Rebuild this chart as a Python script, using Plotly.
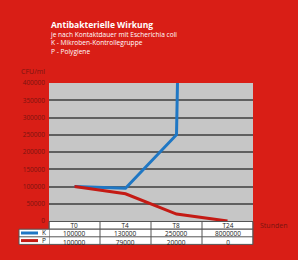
import plotly.graph_objects as go

categories = ["T0", "T4", "T8", "T24"]
k_values = [100000, 95000, 250000, 8000000]
p_values = [100000, 79000, 20000, 0]
k_table = ["100000", "130000", "250000", "8000000"]
p_table = ["100000", "79000", "20000", "0"]
series_names = ["K", "P"]
y_ticks = [0, 50000, 100000, 150000, 200000, 250000, 300000, 350000, 400000]
title_main = "Antibakterielle Wirkung"
title_lines = ["je nach Kontaktdauer mit Escherichia coli", "K - Mikroben-Kontrollegruppe", "P - Polygiene"]

W, H = 298, 260
L, R, T, B = 49, 253, 83, 221
pw, ph = R - L, B - T

def px(x):
    return (x - L) / pw

def py(y):
    return (B - y) / ph

BG = "#d91e16"
DARK = "#7a1410"
BLUE = "#1f77c4"
RED = "#c41a14"
FONT = "Open Sans"

fig = go.Figure()
fig.add_trace(go.Scatter(x=categories, y=k_values, mode="lines",
                         line=dict(color=BLUE, width=3), cliponaxis=True, showlegend=False))
fig.add_trace(go.Scatter(x=categories, y=p_values, mode="lines",
                         line=dict(color=RED, width=3), cliponaxis=True, showlegend=False))

shapes = []
annotations = []
row_edges = [221.5, 229.2, 236.8, 244.4]
shapes.append(dict(type="rect", xref="paper", yref="paper", x0=px(49), x1=px(253),
                   y0=py(row_edges[1]), y1=py(row_edges[0]), fillcolor="white",
                   line=dict(color="#555", width=1), layer="above"))
shapes.append(dict(type="rect", xref="paper", yref="paper", x0=px(19), x1=px(253),
                   y0=py(row_edges[3]), y1=py(row_edges[1]), fillcolor="white",
                   line=dict(color="#555", width=1), layer="above"))
shapes.append(dict(type="line", xref="paper", yref="paper", x0=px(19), x1=px(253),
                   y0=py(row_edges[2]), y1=py(row_edges[2]), line=dict(color="#555", width=1)))
for i in range(len(categories) + 1):
    xx = i - 0.5
    shapes.append(dict(type="line", xref="x", yref="paper", x0=xx, x1=xx,
                       y0=py(row_edges[3]), y1=py(row_edges[0]), line=dict(color="#555", width=1)))
for rowi, col in [(1, BLUE), (2, RED)]:
    yc = (row_edges[rowi] + row_edges[rowi + 1]) / 2
    shapes.append(dict(type="line", xref="paper", yref="paper", x0=px(21), x1=px(38),
                       y0=py(yc), y1=py(yc), line=dict(color=col, width=3)))

tfont = dict(family=FONT, size=6.5, color="#222")
mid_low = (row_edges[1] + row_edges[3]) / 2
annotations.append(dict(x=px(44), y=py(mid_low), xref="paper", yref="paper",
                        text="<br>".join(series_names), showarrow=False, borderpad=0,
                        font=tfont, xanchor="center", yanchor="middle"))
mid_all = (row_edges[0] + row_edges[3]) / 2
for c, k, p in zip(categories, k_table, p_table):
    annotations.append(dict(x=c, y=py(mid_all + 0.6), xref="x", yref="paper",
                            text="<br>".join([c, k, p]), showarrow=False, borderpad=0,
                            font=tfont, xanchor="center", yanchor="middle"))

title_text = ("<span style='font-size:8.5px'><b>" + title_main + "</b></span><br>"
              + "<br>".join(title_lines))
annotations.append(dict(x=px(49), y=py(18), xref="paper", yref="paper",
                        text=title_text, showarrow=False, borderpad=0, align="left",
                        font=dict(family=FONT, size=6.6, color="white"),
                        xanchor="left", yanchor="top"))
annotations.append(dict(x=px(19), y=py(71), xref="paper", yref="paper", text="CFU/ml",
                        showarrow=False, font=dict(family=FONT, size=7, color=DARK),
                        xanchor="left", yanchor="middle"))
annotations.append(dict(x=px(258), y=py(225), xref="paper", yref="paper", text="Stunden",
                        showarrow=False, font=dict(family=FONT, size=7, color=DARK),
                        xanchor="left", yanchor="middle"))

fig.update_layout(
    width=W, height=H,
    margin=dict(l=L, r=W - R, t=T, b=H - B),
    paper_bgcolor=BG, plot_bgcolor="#c6c6c6",
    shapes=shapes, annotations=annotations,
    xaxis=dict(type="category", range=[-0.5, 3.5], showticklabels=False, showgrid=False,
               zeroline=False, showline=False, fixedrange=True),
    yaxis=dict(range=[0, 400000], tickvals=y_ticks, ticktext=[str(v) for v in y_ticks],
               showgrid=True, gridcolor="#5f5f5f", gridwidth=1.5, zeroline=False,
               tickfont=dict(family=FONT, size=6.5, color=DARK), ticks="", ticklabelstandoff=3),
    showlegend=False,
)
fig.write_html("out.html")
